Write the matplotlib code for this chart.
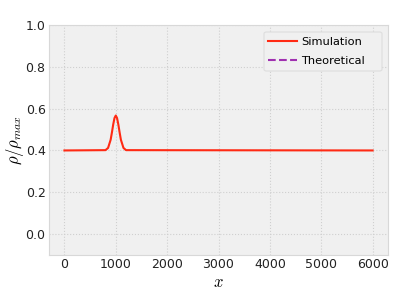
import matplotlib
matplotlib.use("Agg")
import matplotlib.pyplot as plt
from matplotlib.patches import FancyBboxPatch

plt.rcParams["mathtext.fontset"] = "cm"

# simulated density profile
x_sim = [0, 800, 850, 900, 925, 950, 975, 1000, 1025, 1050, 1075, 1100, 1150, 1200, 6000]
rho_sim = [0.400, 0.4015, 0.412, 0.451, 0.486, 0.524, 0.555, 0.567,
           0.555, 0.524, 0.486, 0.451, 0.412, 0.4015, 0.400]

# theoretical curve is not visible in the plot
x_th = []
rho_th = []

xticks = [0, 1000, 2000, 3000, 4000, 5000, 6000]
yticks = [0.0, 0.2, 0.4, 0.6, 0.8, 1.0]

W, H = 399, 291
fig = plt.figure(figsize=(W / 100, H / 100), dpi=100)
ax = fig.add_axes([49 / W, 1 - 255 / H, 339 / W, 230 / H])
ax.set_facecolor("#f0f0f0")
fig.patch.set_facecolor("white")

ax.plot(x_sim, rho_sim, color="#ff2a14", lw=1.5, label="Simulation")
ax.plot(x_th, rho_th, color="#a030b0", lw=1.5, ls="--", label="Theoretical")

ax.set_xlim(-300, 6300)
ax.set_ylim(-0.1, 1.0)
ax.set_xticks(xticks)
ax.set_yticks(yticks)
ax.grid(True, color="#cfcfcf", ls=":", lw=0.8)
ax.set_axisbelow(True)
for s in ax.spines.values():
    s.set_color("#d8d8d8")
    s.set_linewidth(0.8)
ax.tick_params(labelcolor="#222222", labelsize=9, length=0, pad=2.5)

ax.set_xlabel(r"$x$", fontsize=12, labelpad=1)
ax.set_ylabel(r"$\rho/\rho_{max}$", fontsize=12, labelpad=-0.5)

# legend box (drawn separately, it is wider than its text)
frame = FancyBboxPatch((264 / W, 1 - 71 / H), 118 / W, 39 / H,
                       boxstyle="round,pad=0,rounding_size=0.006",
                       transform=fig.transFigure, facecolor="#f0f0f0",
                       edgecolor="#dddddd", lw=0.8, zorder=4, clip_on=False)
ax.add_artist(frame)
leg = ax.legend(loc="upper left", bbox_to_anchor=(265 / W, 1 - 34 / H),
                bbox_transform=fig.transFigure, fontsize=8.2, frameon=False,
                handlelength=2.5, handletextpad=0.35, labelspacing=0.75,
                borderpad=0.3, borderaxespad=0)
leg.set_zorder(6)

fig.savefig("out.png", dpi=100)
